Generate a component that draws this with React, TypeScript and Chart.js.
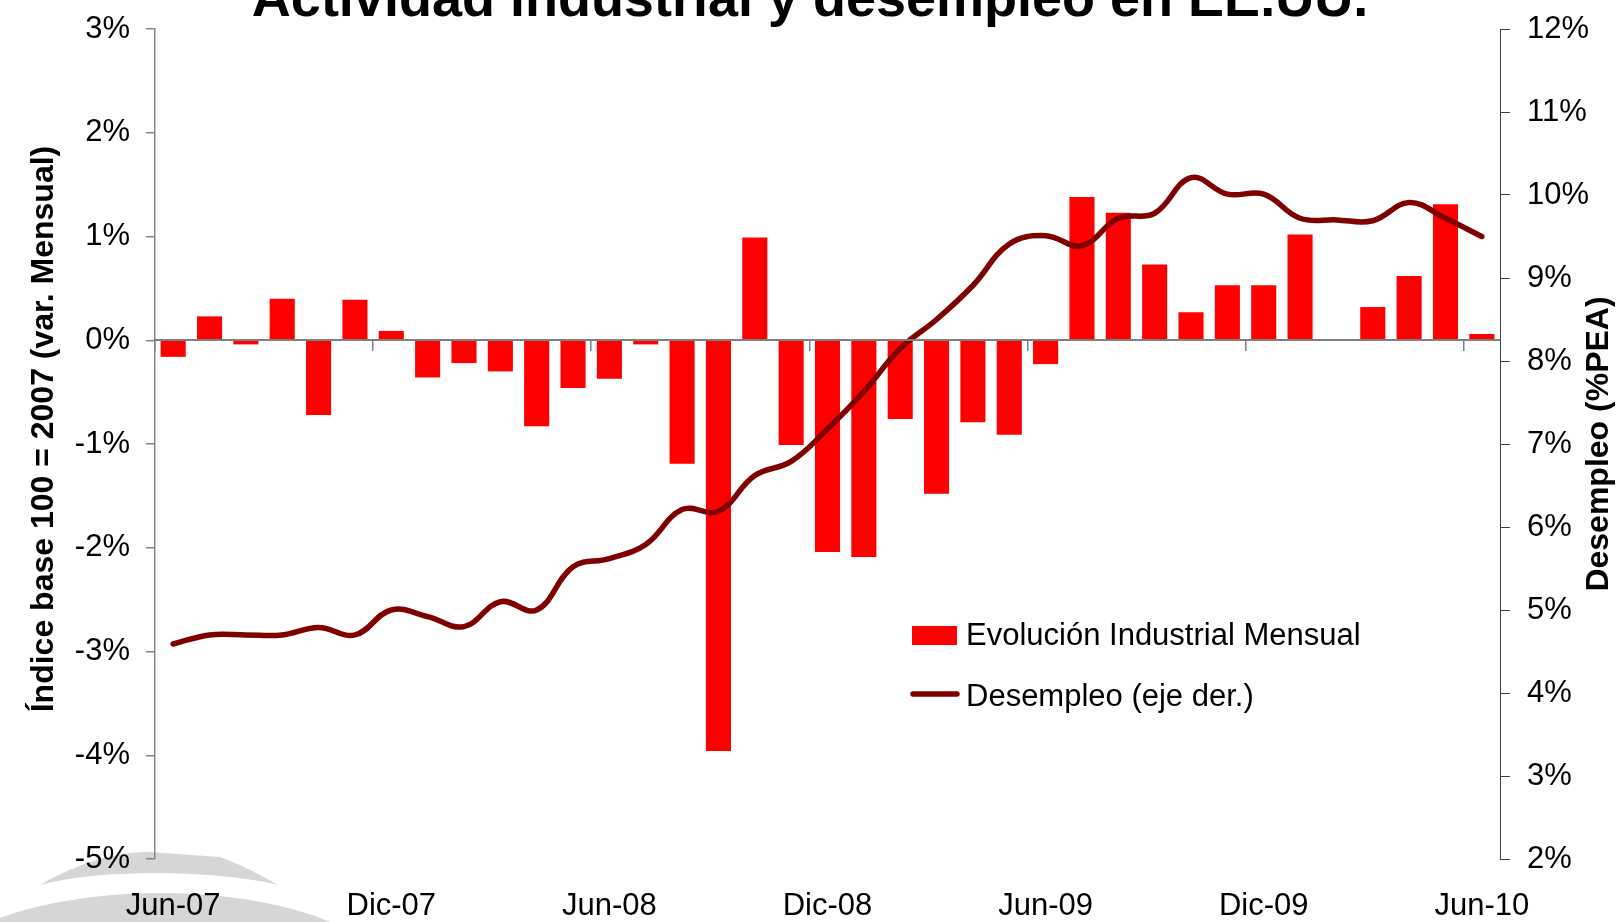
import React, { useEffect, useRef } from 'react';
import { Chart, registerables } from 'chart.js';

Chart.register(...registerables);

const FONT = '"Liberation Sans", Arial, Helvetica, sans-serif';

const TITLE = 'Actividad industrial y desempleo en EE.UU.';
const LEFT_TITLE = 'Índice base 100 = 2007 (var. Mensual)';
const RIGHT_TITLE = 'Desempleo (%PEA)';
const BAR_LABEL = 'Evolución Industrial Mensual';
const LINE_LABEL = 'Desempleo (eje der.)';

const months = [
  'Jun-07', 'Jul-07', 'Ago-07', 'Sep-07', 'Oct-07', 'Nov-07', 'Dic-07',
  'Ene-08', 'Feb-08', 'Mar-08', 'Abr-08', 'May-08', 'Jun-08', 'Jul-08',
  'Ago-08', 'Sep-08', 'Oct-08', 'Nov-08', 'Dic-08', 'Ene-09', 'Feb-09',
  'Mar-09', 'Abr-09', 'May-09', 'Jun-09', 'Jul-09', 'Ago-09', 'Sep-09',
  'Oct-09', 'Nov-09', 'Dic-09', 'Ene-10', 'Feb-10', 'Mar-10', 'Abr-10',
  'May-10', 'Jun-10',
];

// Monthly industrial activity change (%), left axis
const industrial = [
  -0.16, 0.23, -0.04, 0.40, -0.72, 0.39, 0.09, -0.36, -0.22, -0.30,
  -0.83, -0.46, -0.37, -0.04, -1.19, -3.96, 0.99, -1.01, -2.04, -2.09,
  -0.76, -1.48, -0.79, -0.91, -0.23, 1.38, 1.23, 0.73, 0.27, 0.53,
  0.53, 1.02, 0.01, 0.32, 0.62, 1.31, 0.06,
];

// Unemployment rate (% PEA), right axis
const unemployment = [
  4.59, 4.70, 4.70, 4.70, 4.79, 4.70, 5.00, 4.92, 4.80, 5.10,
  5.00, 5.52, 5.62, 5.79, 6.21, 6.19, 6.62, 6.79, 7.18, 7.63,
  8.15, 8.50, 8.91, 9.41, 9.51, 9.39, 9.72, 9.78, 10.21, 10.01,
  10.01, 9.72, 9.70, 9.69, 9.91, 9.72, 9.50,
];

const LEFT_MIN = -5;
const LEFT_MAX = 3;
const RIGHT_MIN = 2;
const RIGHT_MAX = 12;
const LABEL_EVERY = 6;

const BAR_COLOR = '#FF0000';
const LINE_COLOR = '#800000';

const W = 1620;
const SHIFT = 28; // canvas starts above the visible page top
const H = 922 + SHIFT;

const decorPlugin = {
  id: 'decor',
  beforeDraw(chart: any) {
    const ctx = chart.ctx;
    ctx.save();
    ctx.fillStyle = '#d6d6d6';
    // upper swoosh
    ctx.beginPath();
    ctx.moveTo(40, 885 + SHIFT);
    ctx.bezierCurveTo(80, 862 + SHIFT, 115, 852 + SHIFT, 150, 852 + SHIFT);
    ctx.lineTo(220, 857 + SHIFT);
    ctx.bezierCurveTo(245, 866 + SHIFT, 262, 876 + SHIFT, 278, 885 + SHIFT);
    ctx.bezierCurveTo(230, 872 + SHIFT, 110, 866 + SHIFT, 40, 885 + SHIFT);
    ctx.closePath();
    ctx.fill();
    // lower swoosh
    ctx.beginPath();
    ctx.moveTo(0, 918 + SHIFT);
    ctx.bezierCurveTo(40, 903 + SHIFT, 100, 893 + SHIFT, 160, 893 + SHIFT);
    ctx.bezierCurveTo(230, 893 + SHIFT, 290, 905 + SHIFT, 330, 922 + SHIFT);
    ctx.lineTo(330, 940 + SHIFT);
    ctx.lineTo(0, 940 + SHIFT);
    ctx.closePath();
    ctx.fill();
    ctx.restore();
  },
  afterDraw(chart: any) {
    const ctx = chart.ctx;
    const area = chart.chartArea;
    const yL = chart.scales.y;
    const yR = chart.scales.y1;
    const midY = (area.top + area.bottom) / 2;
    ctx.save();
    ctx.fillStyle = '#000';
    ctx.textAlign = 'center';
    ctx.textBaseline = 'middle';
    ctx.font = `bold 32px ${FONT}`;
    // left axis title
    ctx.save();
    ctx.translate(yL.left + 44, midY - 15);
    ctx.rotate(-Math.PI / 2);
    ctx.fillText(LEFT_TITLE, 0, 0);
    ctx.restore();
    // right axis title (reads bottom to top)
    ctx.save();
    ctx.translate(yR.right - 21, midY);
    ctx.rotate(-Math.PI / 2);
    ctx.fillText(RIGHT_TITLE, 0, 0);
    ctx.restore();

    // legend
    const lx = 912;
    const ly1 = 673;
    const ly2 = 734;
    ctx.fillStyle = BAR_COLOR;
    ctx.fillRect(lx, ly1 - 19, 45, 19);
    ctx.strokeStyle = LINE_COLOR;
    ctx.lineWidth = 5.5;
    ctx.lineCap = 'round';
    ctx.beginPath();
    ctx.moveTo(lx + 1, ly2 - 12);
    ctx.lineTo(lx + 45, ly2 - 12);
    ctx.stroke();
    ctx.fillStyle = '#000';
    ctx.textAlign = 'left';
    ctx.textBaseline = 'alphabetic';
    ctx.font = `31px ${FONT}`;
    ctx.fillText(BAR_LABEL, lx + 54, ly1);
    ctx.fillText(LINE_LABEL, lx + 54, ly2);
    ctx.restore();
  },
};

export default function App() {
  const ref = useRef<HTMLCanvasElement | null>(null);

  useEffect(() => {
    const canvas = ref.current;
    if (!canvas) return;
    const tickFont = { family: FONT, size: 31 };
    const chart = new Chart(canvas, {
      type: 'bar',
      data: {
        labels: months,
        datasets: [
          {
            type: 'line',
            label: LINE_LABEL,
            data: unemployment,
            yAxisID: 'y1',
            xAxisID: 'x',
            borderColor: LINE_COLOR,
            backgroundColor: LINE_COLOR,
            borderWidth: 5.5,
            borderCapStyle: 'round',
            borderJoinStyle: 'round',
            tension: 0.4,
            pointRadius: 0,
            fill: false,
            order: 0,
          } as any,
          {
            type: 'bar',
            label: BAR_LABEL,
            data: industrial,
            yAxisID: 'y',
            xAxisID: 'x',
            backgroundColor: BAR_COLOR,
            borderWidth: 0,
            barPercentage: 0.69,
            categoryPercentage: 1,
            order: 1,
          } as any,
        ],
      },
      options: {
        responsive: false,
        maintainAspectRatio: false,
        animation: false,
        devicePixelRatio: 1,
        layout: { padding: 0 },
        plugins: {
          legend: { display: false },
          tooltip: { enabled: false },
          title: {
            display: true,
            text: TITLE,
            color: '#000',
            font: { family: FONT, size: 54, weight: 'bold', lineHeight: 1 },
            padding: { top: 2, bottom: 1 },
          },
        },
        scales: {
          x: {
            type: 'category',
            position: 'bottom',
            offset: true,
            grid: { display: false, drawTicks: false },
            border: { display: false },
            ticks: {
              autoSkip: false,
              maxRotation: 0,
              minRotation: 0,
              padding: 29,
              color: '#000',
              font: tickFont,
              callback: (_v: any, i: number) => (i % LABEL_EVERY === 0 ? months[i] : ''),
            },
            afterFit: (s: any) => {
              s.height = 63;
            },
          },
          x2: {
            type: 'category',
            position: { y: 0 },
            offset: true,
            grid: {
              offset: true,
              drawOnChartArea: false,
              drawTicks: true,
              tickLength: 10,
              lineWidth: 1.5,
              color: (c: any) => (c.index !== undefined && c.index % LABEL_EVERY === 0 ? '#7f7f7f' : 'rgba(0,0,0,0)'),
            },
            border: { display: true, color: '#7f7f7f', width: 2, z: 1 },
            ticks: { display: false },
          },
          y: {
            position: 'left',
            min: LEFT_MIN,
            max: LEFT_MAX,
            ticks: {
              stepSize: 1,
              padding: 16,
              color: '#000',
              font: tickFont,
              callback: (v: any) => `${v}%`,
            },
            grid: { drawOnChartArea: false, tickLength: 9, color: '#868686', lineWidth: 1.5 },
            border: { color: '#868686', width: 1.5 },
            afterFit: (s: any) => {
              s.width = 155;
            },
          },
          y1: {
            position: 'right',
            min: RIGHT_MIN,
            max: RIGHT_MAX,
            ticks: {
              stepSize: 1,
              padding: 17,
              color: '#000',
              font: tickFont,
              callback: (v: any) => `${v}%`,
            },
            grid: { drawOnChartArea: false, tickLength: 10, color: '#404040', lineWidth: 1 },
            border: { color: '#404040', width: 1 },
            afterFit: (s: any) => {
              s.width = 120;
            },
          },
        },
      } as any,
      plugins: [decorPlugin],
    });
    return () => chart.destroy();
  }, []);

  return (
    <div style={{ position: 'absolute', left: 0, top: -SHIFT, width: W, height: H, background: '#fff' }}>
      <canvas ref={ref} width={W} height={H} style={{ width: W, height: H, display: 'block' }} />
    </div>
  );
}
